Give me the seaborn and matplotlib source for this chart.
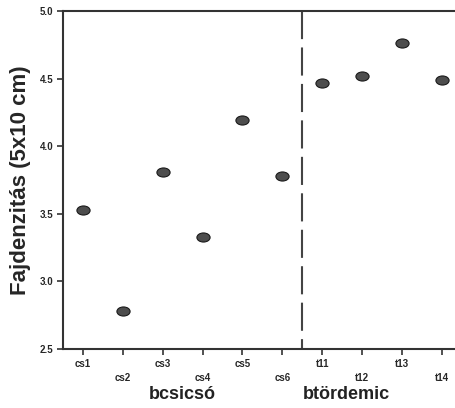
import numpy as np
import pandas as pd
import seaborn as sns
import matplotlib.pyplot as plt
from matplotlib.path import Path
from matplotlib.transforms import Affine2D

# Data
labels = ['cs1', 'cs2', 'cs3', 'cs4', 'cs5', 'cs6', 't11', 't12', 't13', 't14']
values = [3.53, 2.78, 3.81, 3.33, 4.19, 3.78, 4.47, 4.52, 4.76, 4.49]
groups = ['bcsicsó', 'btördemic']

df = pd.DataFrame({'label': labels, 'value': values})

sns.set_style('white')
plt.rcParams['font.family'] = ['Liberation Sans', 'DejaVu Sans']

fig = plt.figure(figsize=(4.55, 4.08), dpi=100)
ax = fig.add_axes([0.138, 0.145, 0.86, 0.828])

# ellipse marker
ellipse = Path.unit_circle().transformed(Affine2D().scale(1.45, 1.0))

sns.scatterplot(data=df, x='label', y='value', marker=ellipse, s=90,
                color='#4d4d4d', edgecolor='#1a1a1a', linewidth=0.8, ax=ax, zorder=3)

ax.set_xlim(-0.5, 9.3)
ax.set_ylim(2.5, 5.0)
ax.set_yticks([2.5, 3.0, 3.5, 4.0, 4.5, 5.0])
ax.set_yticklabels(['2.5', '3.0', '3.5', '4.0', '4.5', '5.0'], fontsize=7, fontweight='bold')

# staggered category labels
ax.set_xticks(range(len(labels)))
ax.set_xticklabels([l if i % 2 == 0 else '\n' + l for i, l in enumerate(labels)],
                   fontsize=7, fontweight='bold', linespacing=1.6)
ax.tick_params(axis='both', direction='out', length=4, width=1.2, color='#333333',
               bottom=True, left=True, pad=3)

# divider between the two groups, dashes start at the top
ax.plot([5.5, 5.5], [5.0, 2.5], color='#444444', linewidth=1.5, dashes=(13.5, 4), zorder=2)

for side in ['left', 'bottom', 'top']:
    ax.spines[side].set_color('#333333')
    ax.spines[side].set_linewidth(1.5)
ax.spines['right'].set_visible(False)

ax.set_xlabel('')
ax.set_ylabel('Fajdenzitás (5x10 cm)', fontsize=16, fontweight='bold', labelpad=6)

# group labels under the axis
ax.text(2.5, -0.135, groups[0], transform=ax.get_xaxis_transform(),
        ha='center', va='center', fontsize=13, fontweight='bold', color='#222222')
ax.text(6.6, -0.135, groups[1], transform=ax.get_xaxis_transform(),
        ha='center', va='center', fontsize=13, fontweight='bold', color='#222222')

fig.savefig('out.png', dpi=100)
